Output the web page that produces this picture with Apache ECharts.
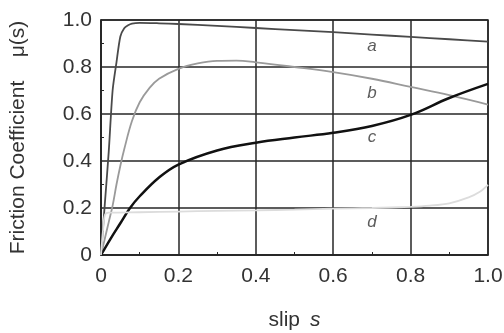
<!DOCTYPE html>
<html>
<head>
<meta charset="utf-8">
<script src="https://cdn.jsdelivr.net/npm/echarts@6/dist/echarts.min.js"></script>
<style>
  html, body { margin: 0; padding: 0; background: #fff; }
  #chartBox { width: 504px; height: 333px; }
</style>
</head>
<body>
<div id="chartBox"></div>
<script>
// slip values and friction curves
const slipA = [0, 0.01, 0.02, 0.03, 0.04, 0.05, 0.06, 0.07, 0.08, 0.1, 0.15, 0.2, 0.3, 0.4, 0.5, 0.6, 0.7, 0.8, 0.9, 1.0];
const muA = [0, 0.22, 0.44, 0.7, 0.82, 0.93, 0.965, 0.978, 0.985, 0.988, 0.986, 0.983, 0.975, 0.966, 0.957, 0.948, 0.938, 0.928, 0.918, 0.908];

const slipB = [0, 0.01, 0.02, 0.03, 0.04, 0.05, 0.06, 0.08, 0.1, 0.125, 0.15, 0.2, 0.25, 0.3, 0.35, 0.4, 0.5, 0.6, 0.7, 0.8, 0.9, 1.0];
const muB = [0, 0.07, 0.14, 0.21, 0.3, 0.38, 0.45, 0.57, 0.65, 0.71, 0.75, 0.792, 0.815, 0.826, 0.827, 0.82, 0.8, 0.778, 0.75, 0.715, 0.68, 0.64];

const slipC = [0, 0.025, 0.05, 0.075, 0.1, 0.15, 0.2, 0.3, 0.4, 0.5, 0.6, 0.7, 0.8, 0.9, 1.0];
const muC = [0, 0.07, 0.135, 0.2, 0.25, 0.33, 0.385, 0.445, 0.478, 0.5, 0.52, 0.549, 0.596, 0.668, 0.728];

const slipD = [0, 0.005, 0.01, 0.02, 0.1, 0.2, 0.3, 0.4, 0.5, 0.6, 0.7, 0.8, 0.85, 0.9, 0.95, 0.98, 1.0];
const muD = [0, 0.1, 0.17, 0.18, 0.182, 0.185, 0.188, 0.19, 0.193, 0.197, 0.2, 0.205, 0.21, 0.22, 0.245, 0.27, 0.298];

// curve names and where they sit
const curveNames = ['a', 'b', 'c', 'd'];
const labelSlip = [0.7, 0.7, 0.7, 0.7];
const labelMu = [0.89, 0.69, 0.5, 0.14];

const zip = (xs, ys) => xs.map((x, i) => [x, ys[i]]);
const tickFmt = v => (v === 0 ? '0' : v.toFixed(1));

const axisColor = '#262626';
const font = 'Liberation Sans, Arial, sans-serif';

const myChart = echarts.init(document.getElementById('chartBox'));

const option = {
  animation: false,
  backgroundColor: '#fff',
  grid: {
    left: 101,
    right: 16,
    top: 20,
    bottom: 78,
    outerBoundsMode: 'none',
    show: true,
    borderColor: axisColor,
    borderWidth: 1.5
  },
  xAxis: {
    type: 'value',
    min: 0,
    max: 1,
    interval: 0.2,
    name: '{n|slip}{i|s}',
    nameLocation: 'middle',
    nameGap: 55,
    nameTextStyle: {
      rich: {
        n: { fontSize: 21, color: '#333', fontFamily: font, padding: [0, 10, 0, 0] },
        i: { fontSize: 21, color: '#333', fontFamily: font, fontStyle: 'italic' }
      }
    },
    axisLine: { lineStyle: { color: axisColor, width: 1.5 } },
    axisTick: { show: true, inside: true, length: 0 },
    minorTick: { show: true, splitNumber: 2, length: 3, lineStyle: { color: axisColor } },
    axisLabel: { formatter: tickFmt, fontSize: 21, color: '#333', fontFamily: font, margin: 11 },
    splitLine: { lineStyle: { color: axisColor, width: 1.5 } }
  },
  yAxis: {
    type: 'value',
    min: 0,
    max: 1,
    interval: 0.2,
    name: 'Friction Coefficient    μ(s)',
    nameLocation: 'middle',
    nameGap: 72,
    nameTextStyle: { fontSize: 21, color: '#333', fontFamily: font },
    axisLine: { show: true, lineStyle: { color: axisColor, width: 1.5 } },
    axisTick: { show: true, inside: true, length: 0 },
    minorTick: { show: true, splitNumber: 2, length: 3, lineStyle: { color: axisColor } },
    axisLabel: { formatter: tickFmt, fontSize: 21, color: '#333', fontFamily: font, margin: 9 },
    splitLine: { lineStyle: { color: axisColor, width: 1.5 } }
  },
  series: [
    {
      name: 'a', type: 'line', data: zip(slipA, muA), showSymbol: false, smooth: 0.25,
      lineStyle: { color: '#4a4a4a', width: 1.8 }
    },
    {
      name: 'b', type: 'line', data: zip(slipB, muB), showSymbol: false, smooth: 0.4,
      lineStyle: { color: '#9a9a9a', width: 1.8 }
    },
    {
      name: 'c', type: 'line', data: zip(slipC, muC), showSymbol: false, smooth: 0.4,
      lineStyle: { color: '#111', width: 2.5 }
    },
    {
      name: 'd', type: 'line', data: zip(slipD, muD), showSymbol: false, smooth: 0.3,
      lineStyle: { color: '#dcdcdc', width: 1.8 }
    },
    {
      name: 'labels', type: 'scatter', symbolSize: 0,
      data: curveNames.map((n, i) => ({ value: [labelSlip[i], labelMu[i]], name: n })),
      label: {
        show: true,
        position: 'inside',
        formatter: p => p.name,
        fontSize: 17,
        fontStyle: 'italic',
        color: '#333',
        fontFamily: font
      }
    }
  ]
};

myChart.setOption(option);
</script>
</body>
</html>
